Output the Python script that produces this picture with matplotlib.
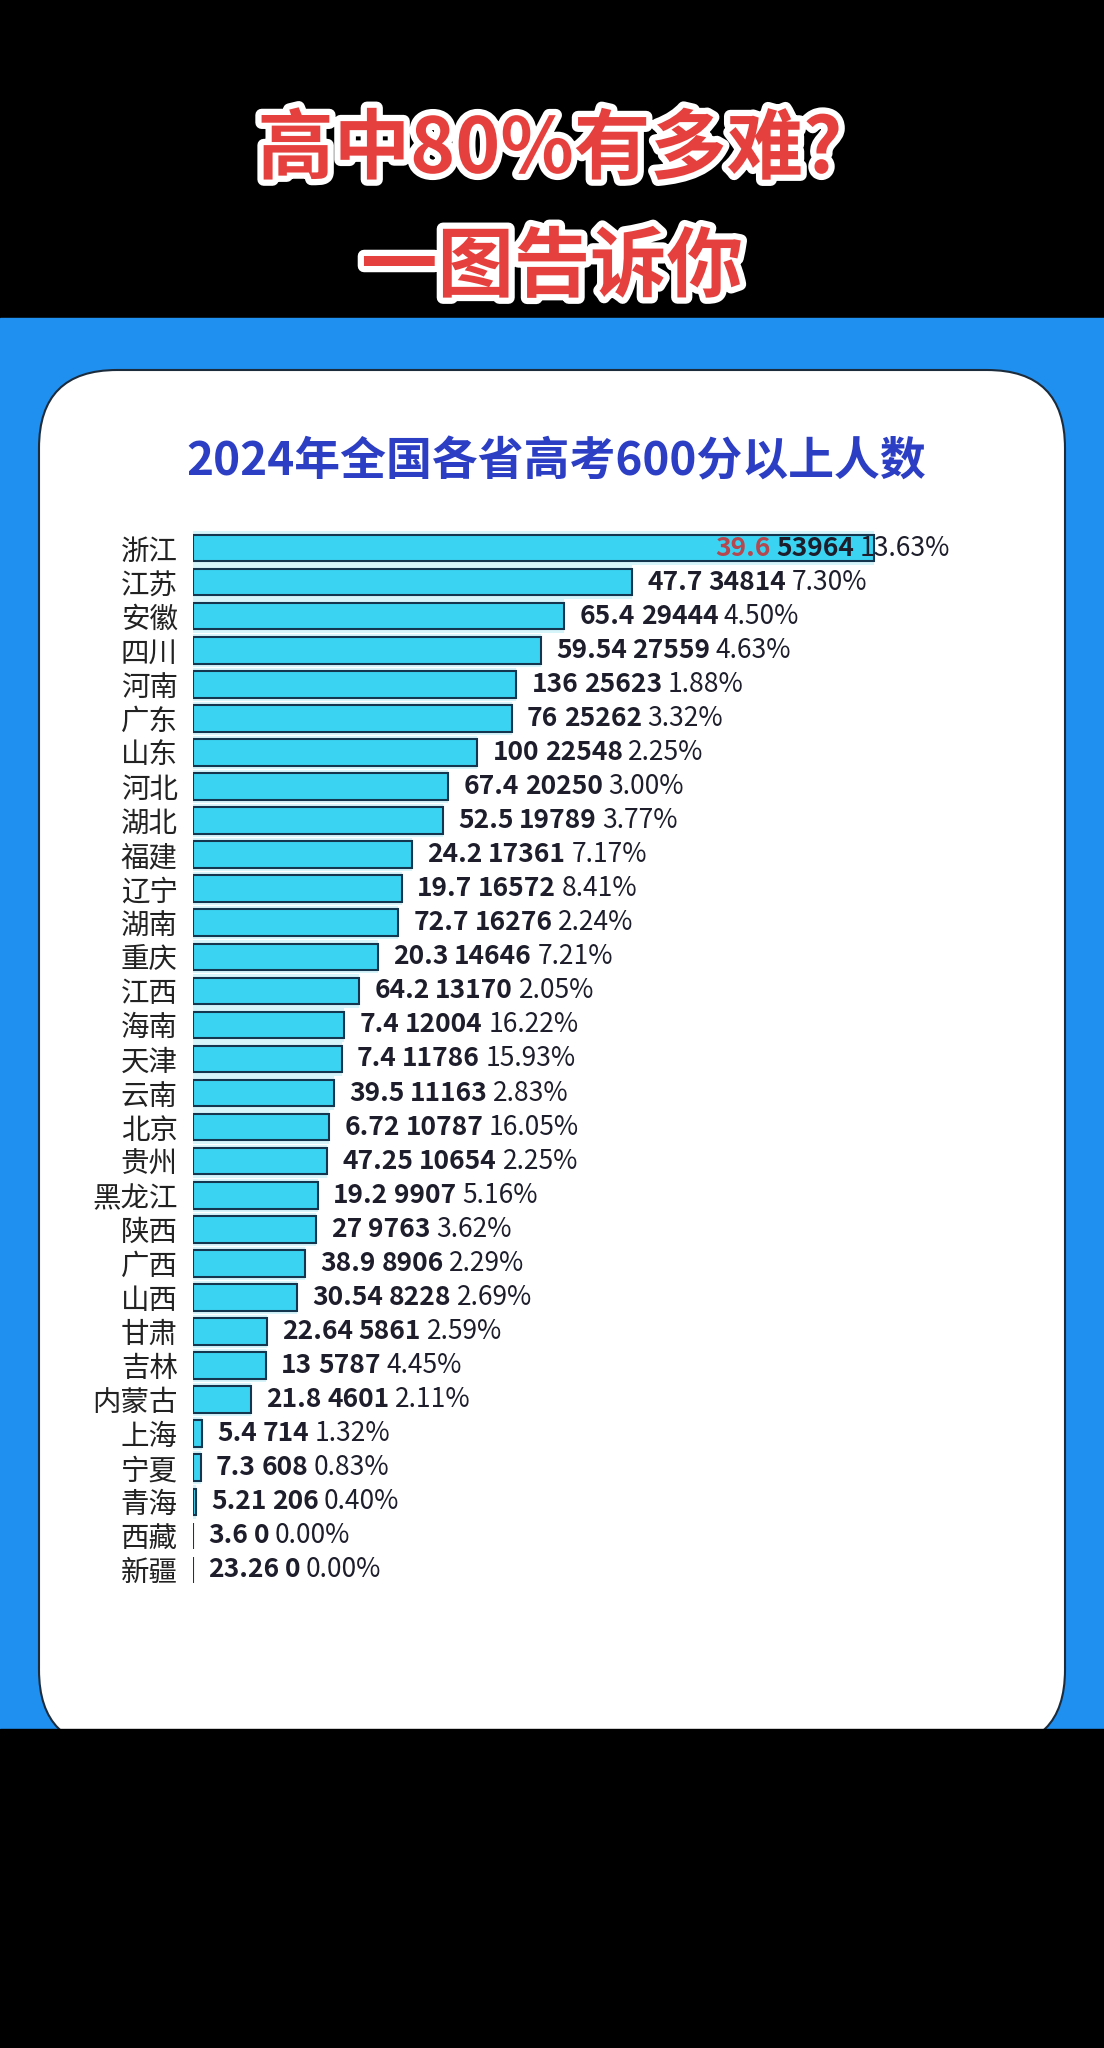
import numpy as np
import matplotlib.pyplot as plt
import matplotlib.patheffects as pe
from matplotlib.patches import Rectangle, FancyBboxPatch

plt.rcParams['font.family'] = ['Noto Sans CJK SC', 'DejaVu Sans']

# 数据：省份 / 考生人数(万) / 600分以上人数 / 占比
provinces = ['浙江', '江苏', '安徽', '四川', '河南', '广东', '山东', '河北', '湖北', '福建',
             '辽宁', '湖南', '重庆', '江西', '海南', '天津', '云南', '北京', '贵州', '黑龙江',
             '陕西', '广西', '山西', '甘肃', '吉林', '内蒙古', '上海', '宁夏', '青海', '西藏', '新疆']
exam_takers = ['39.6', '47.7', '65.4', '59.54', '136', '76', '100', '67.4', '52.5', '24.2',
               '19.7', '72.7', '20.3', '64.2', '7.4', '7.4', '39.5', '6.72', '47.25', '19.2',
               '27', '38.9', '30.54', '22.64', '13', '21.8', '5.4', '7.3', '5.21', '3.6', '23.26']
above_600 = [53964, 34814, 29444, 27559, 25623, 25262, 22548, 20250, 19789, 17361,
             16572, 16276, 14646, 13170, 12004, 11786, 11163, 10787, 10654, 9907,
             9763, 8906, 8228, 5861, 5787, 4601, 714, 608, 206, 0, 0]
ratio = ['13.63%', '7.30%', '4.50%', '4.63%', '1.88%', '3.32%', '2.25%', '3.00%', '3.77%', '7.17%',
         '8.41%', '2.24%', '7.21%', '2.05%', '16.22%', '15.93%', '2.83%', '16.05%', '2.25%', '5.16%',
         '3.62%', '2.29%', '2.69%', '2.59%', '4.45%', '2.11%', '1.32%', '0.83%', '0.40%', '0.00%', '0.00%']

W, H = 1104, 2048
fig = plt.figure(figsize=(W / 100, H / 100), dpi=100)
fig.patch.set_facecolor('black')

# 背景：蓝色底板 + 白色圆角卡片（像素坐标）
bg = fig.add_axes([0, 0, 1, 1])
bg.set_xlim(0, W)
bg.set_ylim(H, 0)
bg.axis('off')
bg.add_patch(Rectangle((0, 318), W, 1411, color='#1F8FF0', zorder=1))
bg.add_patch(FancyBboxPatch((39, 370), 1026, 1378, boxstyle='round,pad=0,rounding_size=78',
                            facecolor='white', edgecolor='#1c2c3c', linewidth=1.5, zorder=2))
bg.add_patch(Rectangle((0, 1729), W, H - 1729, color='black', zorder=3))

# 顶部大标题
stroke = [pe.withStroke(linewidth=9, foreground='white')]
fig.text(550 / W, 1 - 150 / H, '高中80%有多难?', ha='center', va='center', fontsize=55,
         fontweight='heavy', color='#E5403D', path_effects=stroke)
fig.text(552 / W, 1 - 268 / H, '一图告诉你', ha='center', va='center', fontsize=55,
         fontweight='heavy', color='#E5403D', path_effects=stroke)

# 图表标题
fig.text(556 / W, 1 - 462 / H, '2024年全国各省高考600分以上人数', ha='center', va='center',
         fontsize=33, fontweight='heavy', color='#2B3EC4')

# 条形图
ax_left, ax_right, ax_top, ax_bottom = 193, 950, 531, 1587
ax = fig.add_axes([ax_left / W, 1 - ax_bottom / H, (ax_right - ax_left) / W, (ax_bottom - ax_top) / H])
ax.patch.set_alpha(0)
y = np.arange(len(provinces))
xmax = 60000
ax.set_xlim(0, xmax)
ax.set_ylim(len(provinces) - 0.5, -0.5)

ax.barh(y, above_600, height=0.98, color='#d6f5fb', linewidth=0, zorder=1)
ax.barh(y, above_600, height=0.78, color='#3AD4F2', edgecolor='#15364f', linewidth=1.5, zorder=2)

ax.set_yticks(y, provinces, fontsize=20.5, color='#222222')
ax.tick_params(axis='y', length=0, pad=11)
ax.set_xticks([])
for s in ax.spines.values():
    s.set_visible(False)

# 数值标签
fs = 19
labels = []
for i, (v, n1, r) in enumerate(zip(above_600, exam_takers, ratio)):
    c1 = '#b5484f' if i == 0 else '#1d1d2b'
    t1 = ax.annotate(n1, xy=(v, i), xytext=(11, 0), textcoords='offset points',
                     va='center', ha='left', fontsize=fs, fontweight='bold', color=c1, zorder=3)
    t2 = ax.annotate(str(v), xy=(1, 0.5), xycoords=t1, xytext=(4, 0), textcoords='offset points',
                     va='center', ha='left', fontsize=fs, fontweight='bold', color='#1d1d2b', zorder=3)
    t3 = ax.annotate(r, xy=(1, 0.5), xycoords=t2, xytext=(4, 0), textcoords='offset points',
                     va='center', ha='left', fontsize=fs, color='#1d1d2b', zorder=3)
    labels.append((t1, t3))

# 超出右边界的标签向左移（浙江）
fig.canvas.draw()
renderer = fig.canvas.get_renderer()
right_px = ax.get_window_extent().x1
for t1, t3 in labels:
    over = t3.get_window_extent(renderer).x1 - right_px
    if over > 0:
        t1.xyann = (11 - over * 72 / 100, 0)

fig.savefig('out.png', dpi=100, facecolor=fig.get_facecolor())
